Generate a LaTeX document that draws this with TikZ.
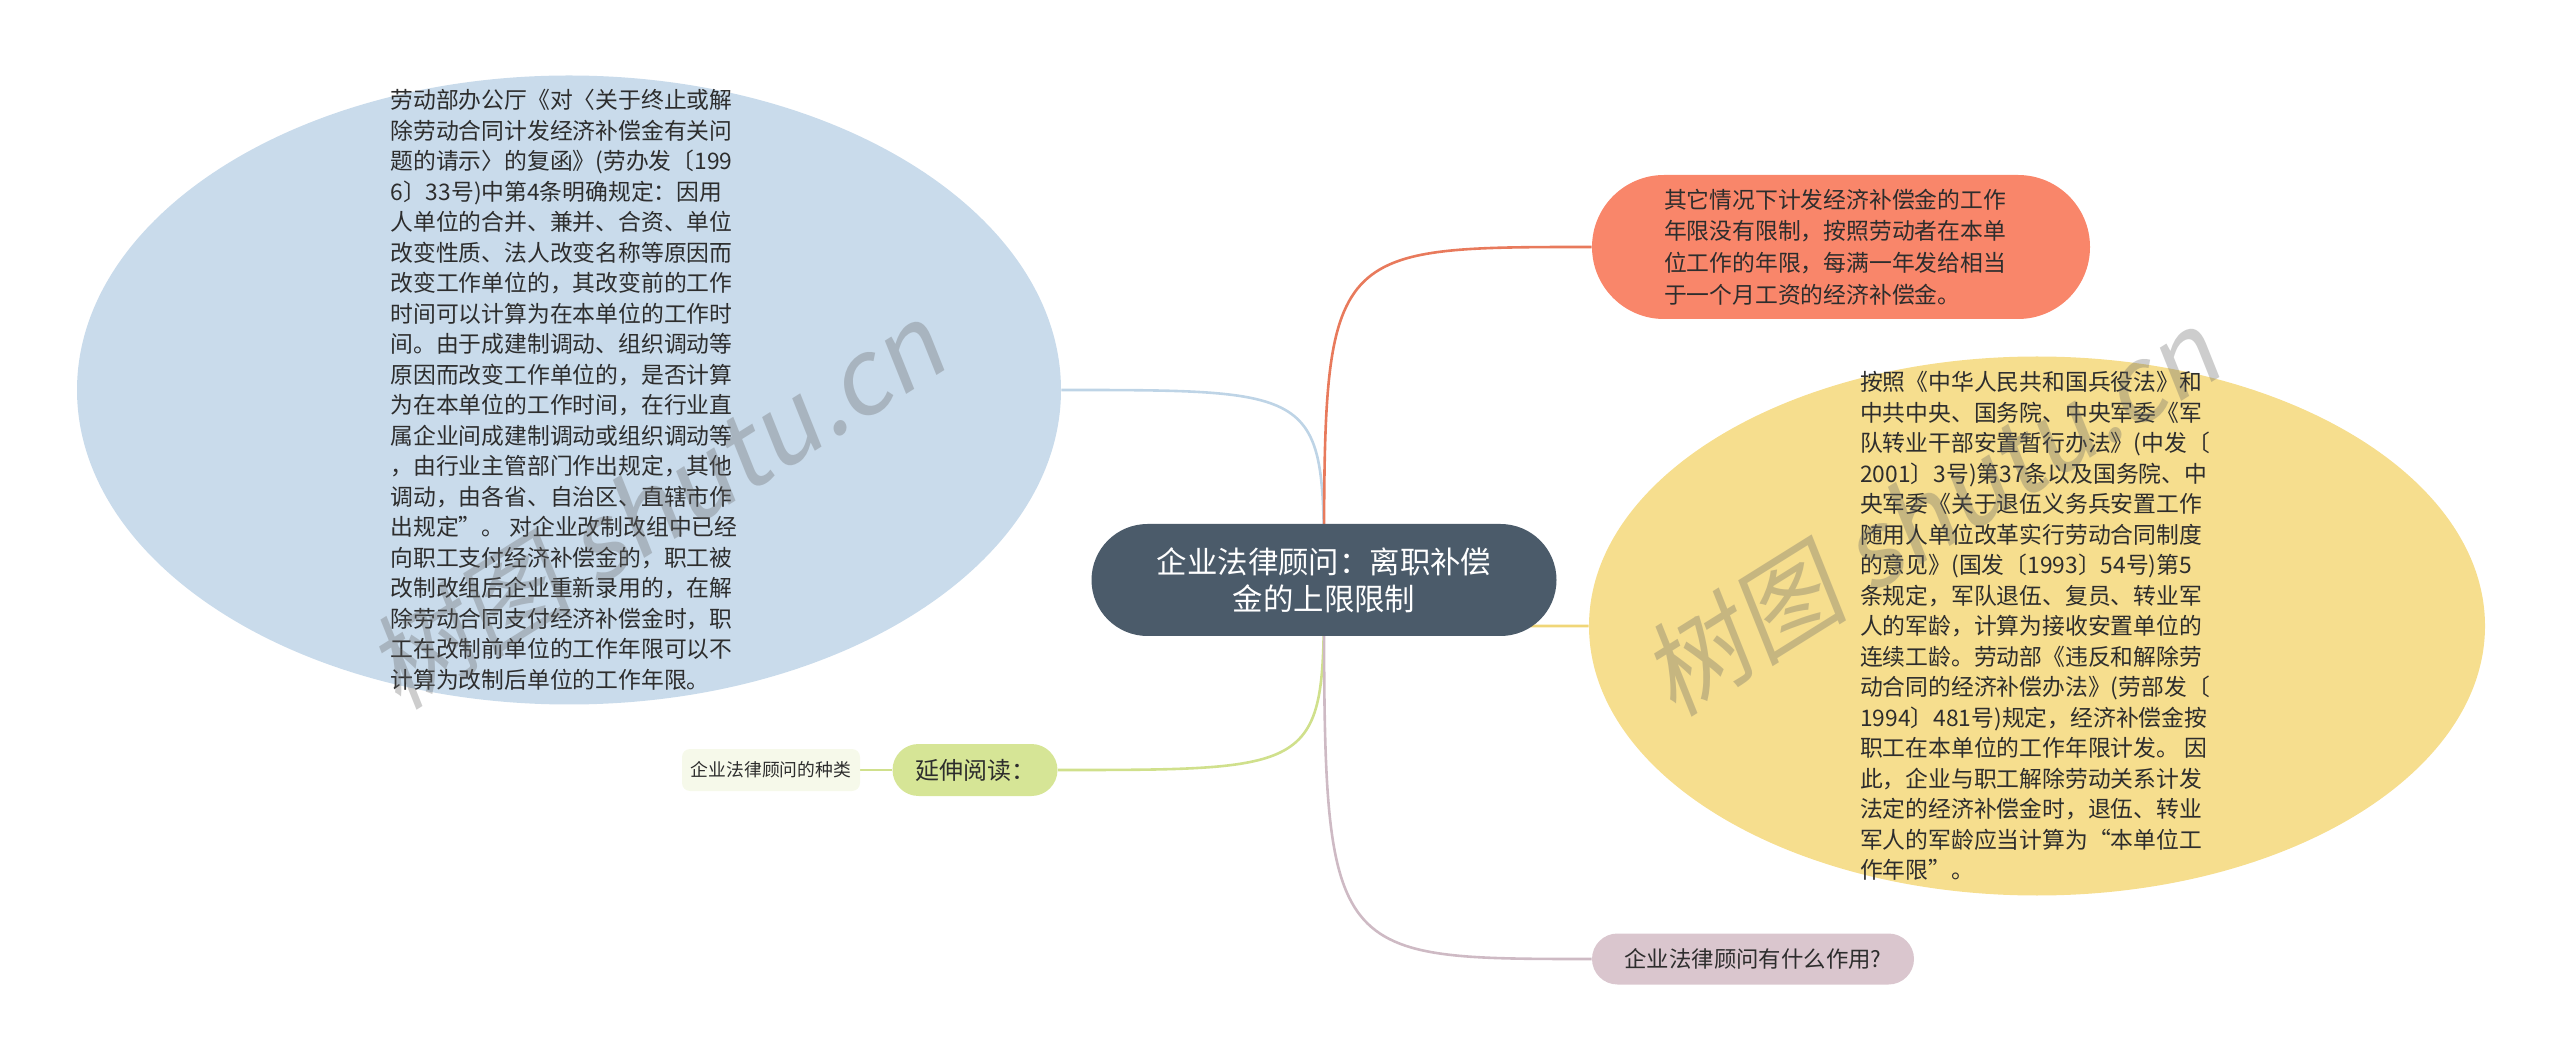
\documentclass[tikz,border=0pt]{standalone}
\usepackage{fontspec}
\setmainfont{Noto Sans CJK SC}
\newfontfamily\wmfont[FakeSlant=0.18]{Noto Sans CJK SC}
\usetikzlibrary{shapes.geometric,backgrounds}
\definecolor{centerC}{RGB}{75,91,106}
\definecolor{blueC}{RGB}{201,219,235}
\definecolor{blueL}{RGB}{190,212,230}
\definecolor{orangeC}{RGB}{249,134,106}
\definecolor{orangeL}{RGB}{232,122,92}
\definecolor{yellowC}{RGB}{246,222,142}
\definecolor{yellowL}{RGB}{240,214,120}
\definecolor{greenC}{RGB}{214,229,150}
\definecolor{greenL}{RGB}{208,224,140}
\definecolor{paleC}{RGB}{246,249,234}
\definecolor{purpleC}{RGB}{218,198,206}
\definecolor{purpleL}{RGB}{206,186,196}
\definecolor{txt}{RGB}{45,45,45}
\newcommand\bodyfs{\fontsize{11.4pt}{15.25pt}\selectfont}
\begin{document}
\begin{tikzpicture}[x=0.5pt,y=-0.5pt,
  conn/.style={line width=1.3pt},
  blob/.style={ellipse,draw=none,inner sep=0pt},
  bodytext/.style={inner sep=0pt,align=left,text=txt,font=\bodyfs},
  pill/.style={draw=none,inner sep=0pt,align=center},
  wmark/.style={text=black!60,opacity=0.33,font=\fontsize{52pt}{56pt}\wmfont}]
\useasboundingbox (0,0) rectangle (2560,1063);

% left blue ellipse
\node[blob,fill=blueC,minimum width=492pt,minimum height=314.5pt] (bE) at (569,390) {};
\node[bodytext] (bT) at (564,390) {劳动部办公厅《对〈关于终止或解\\
除劳动合同计发经济补偿金有关问\\
题的请示〉的复函》(劳办发〔199\\
6〕33号)中第4条明确规定：因用\\
人单位的合并、兼并、合资、单位\\
改变性质、法人改变名称等原因而\\
改变工作单位的，其改变前的工作\\
时间可以计算为在本单位的工作时\\
间。由于成建制调动、组织调动等\\
原因而改变工作单位的，是否计算\\
为在本单位的工作时间，在行业直\\
属企业间成建制调动或组织调动等\\
，由行业主管部门作出规定，其他\\
调动，由各省、自治区、直辖市作\\
出规定”。 对企业改制改组中已经\\
向职工支付经济补偿金的，职工被\\
改制改组后企业重新录用的，在解\\
除劳动合同支付经济补偿金时，职\\
工在改制前单位的工作年限可以不\\
计算为改制后单位的工作年限。};

% right yellow ellipse
\node[blob,fill=yellowC,minimum width=448pt,minimum height=269.5pt] (yE) at (2037,626) {};
\node[bodytext] (yT) at (2035,626) {按照《中华人民共和国兵役法》和\\
中共中央、国务院、中央军委《军\\
队转业干部安置暂行办法》(中发〔\\
2001〕3号)第37条以及国务院、中\\
央军委《关于退伍义务兵安置工作\\
随用人单位改革实行劳动合同制度\\
的意见》(国发〔1993〕54号)第5\\
条规定，军队退伍、复员、转业军\\
人的军龄，计算为接收安置单位的\\
连续工龄。劳动部《违反和解除劳\\
动合同的经济补偿办法》(劳部发〔\\
1994〕481号)规定，经济补偿金按\\
职工在本单位的工作年限计发。 因\\
此，企业与职工解除劳动关系计发\\
法定的经济补偿金时，退伍、转业\\
军人的军龄应当计算为“本单位工\\
作年限”。};

% central node
\node[pill,fill=centerC,text=white,minimum width=232.5pt,minimum height=56pt,rounded corners=28pt,
  font=\fontsize{15.2pt}{18.5pt}\selectfont] (c) at (1324,580) {企业法律顾问：离职补偿\\金的上限限制};

% orange node
\node[pill,fill=orangeC,minimum width=249pt,minimum height=72pt,rounded corners=36pt] (o) at (1841,247) {};
\node[bodytext,font=\fontsize{11.4pt}{15.8pt}\selectfont] (oT) at (1835,247) {其它情况下计发经济补偿金的工作\\
年限没有限制，按照劳动者在本单\\
位工作的年限，每满一年发给相当\\
于一个月工资的经济补偿金。};

% purple node
\node[pill,fill=purpleC,text=txt,minimum width=161pt,minimum height=25.5pt,rounded corners=12.75pt,
  font=\fontsize{11.2pt}{13pt}\selectfont] (p) at (1753,959) {企业法律顾问有什么作用?};

% green node
\node[pill,fill=greenC,text=txt,minimum width=82.5pt,minimum height=26pt,rounded corners=13pt,
  font=\fontsize{12pt}{14pt}\selectfont] (g) at (975,770) {延伸阅读：};

% small node
\node[pill,fill=paleC,text=txt,minimum width=89pt,minimum height=21pt,rounded corners=4pt,
  font=\fontsize{8.9pt}{10pt}\selectfont] (s) at (771,770) {企业法律顾问的种类};

% watermarks
\node[wmark,rotate=32] (w1) at (655,505) {树图 shutu.cn};
\node[wmark,rotate=32] (w2) at (1930,512) {树图 shutu.cn};

\begin{scope}[on background layer]
\draw[conn,blueL] (c.center) .. controls (c.center |- bE.east) .. (bE.east);
\draw[conn,orangeL] (c.center) .. controls (c.center |- o.west) .. (o.west);
\draw[conn,yellowL] (c.center) .. controls (c.center |- yE.west) .. (yE.west);
\draw[conn,greenL] (c.center) .. controls (c.center |- g.east) .. (g.east);
\draw[conn,purpleL] (c.center) .. controls (c.center |- p.west) .. (p.west);
\draw[conn,greenL] (s.east) -- (g.west);
\end{scope}
\end{tikzpicture}
\end{document}
